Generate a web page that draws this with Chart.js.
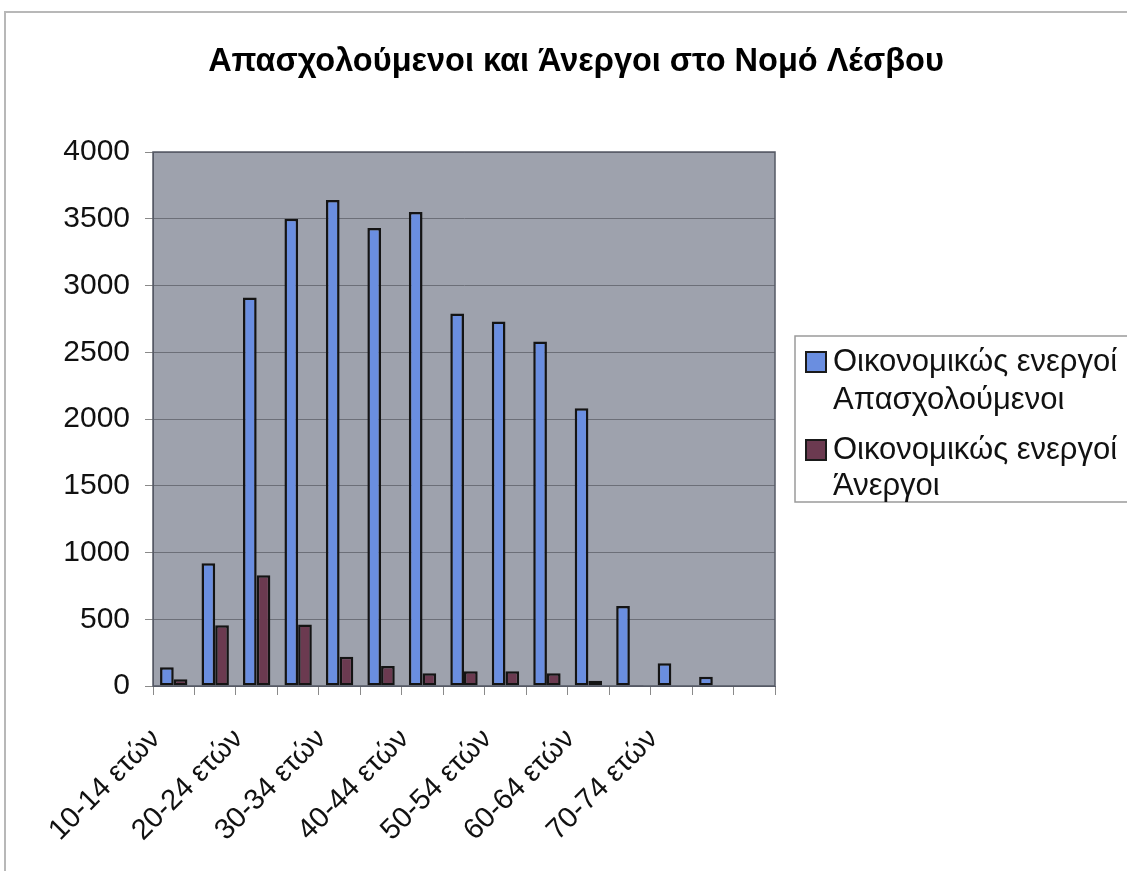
<!DOCTYPE html>
<html lang="el">
<head>
<meta charset="utf-8">
<title>Απασχολούμενοι και Άνεργοι στο Νομό Λέσβου</title>
<script src="https://cdn.jsdelivr.net/npm/chart.js@4.4.1/dist/chart.umd.min.js"></script>
<style>
  html, body { margin: 0; padding: 0; background: #fff; }
  #chart { display: block; }
</style>
</head>
<body>
<canvas id="chart" width="1127" height="871"></canvas>
<script>
// ομάδες ηλικιών (η τελευταία στήλη είναι κενή στο πρωτότυπο)
const ageGroups = ['10-14 ετών', '15-19 ετών', '20-24 ετών', '25-29 ετών', '30-34 ετών',
    '35-39 ετών', '40-44 ετών', '45-49 ετών', '50-54 ετών', '55-59 ετών',
    '60-64 ετών', '65-69 ετών', '70-74 ετών', '75-79 ετών', ''];

// Οικονομικώς ενεργοί Απασχολούμενοι
const employed = [140, 920, 2910, 3500, 3640, 3430, 3550, 2790, 2730, 2580, 2080, 600, 170, 70, null];
// Οικονομικώς ενεργοί Άνεργοι
const unemployed = [50, 455, 830, 460, 220, 150, 95, 110, 110, 95, 40, 8, 0, 0, null];

const yTicks = [0, 500, 1000, 1500, 2000, 2500, 3000, 3500, 4000];
const seriesNames = [
    ['Οικονομικώς ενεργοί', 'Απασχολούμενοι'],
    ['Οικονομικώς ενεργοί', 'Άνεργοι']
];
const titleText = 'Απασχολούμενοι και Άνεργοι στο Νομό Λέσβου';

const FONT = '"Liberation Sans", Arial, sans-serif';
const blue = '#6a8ee0';
const maroon = '#6b3a50';

// φόντο, πλαίσιο, τίτλος και γκρι περιοχή σχεδίασης
const backdrop = {
    id: 'backdrop',
    beforeDraw(chart) {
        const { ctx, chartArea: a } = chart;
        ctx.save();
        ctx.fillStyle = '#ffffff';
        ctx.fillRect(0, 0, chart.width, chart.height);
        ctx.strokeStyle = '#b8b8b8';
        ctx.lineWidth = 2;
        ctx.beginPath();
        ctx.moveTo(5, chart.height);
        ctx.lineTo(5, 12);
        ctx.lineTo(chart.width, 12);
        ctx.stroke();
        ctx.fillStyle = '#9ea2ad';
        ctx.fillRect(a.left, a.top, a.right - a.left, a.bottom - a.top);

        ctx.fillStyle = '#000';
        ctx.font = 'bold 32.5px ' + FONT;
        ctx.textAlign = 'center';
        ctx.textBaseline = 'middle';
        ctx.fillText(titleText, 576, 62);
        ctx.restore();
    },
    afterDraw(chart) {
        const { ctx, chartArea: a } = chart;
        ctx.save();
        ctx.strokeStyle = '#555a66';
        ctx.lineWidth = 1.5;
        ctx.strokeRect(a.left, a.top, a.right - a.left, a.bottom - a.top);
        ctx.restore();
    }
};

// υπόμνημα με δύο γραμμές ανά σειρά
const sideLegend = {
    id: 'sideLegend',
    afterDraw(chart) {
        const ctx = chart.ctx;
        ctx.save();
        ctx.strokeStyle = '#9a9a9a';
        ctx.lineWidth = 1.5;
        ctx.fillStyle = '#ffffff';
        ctx.fillRect(795, 336, 345, 166);
        ctx.strokeRect(795, 336, 345, 166);
        ctx.font = '31px ' + FONT;
        ctx.textBaseline = 'middle';
        const rows = [[362, 400], [450, 486]];
        chart.data.datasets.forEach((ds, i) => {
            const y0 = rows[i][0];
            ctx.fillStyle = ds.backgroundColor;
            ctx.fillRect(806, y0 - 10, 20, 20);
            ctx.strokeStyle = '#1a1a1a';
            ctx.lineWidth = 2;
            ctx.strokeRect(806, y0 - 10, 20, 20);
            ctx.fillStyle = '#111';
            seriesNames[i].forEach((line, j) => {
                ctx.fillText(line, 833, rows[i][j]);
            });
        });
        ctx.restore();
    }
};

new Chart(document.getElementById('chart'), {
    type: 'bar',
    data: {
        labels: ageGroups,
        datasets: [{
            label: seriesNames[0].join(' '),
            data: employed,
            backgroundColor: blue,
            borderColor: '#141414',
            borderWidth: 2.5,
            borderSkipped: false
        }, {
            label: seriesNames[1].join(' '),
            data: unemployed,
            backgroundColor: maroon,
            borderColor: '#141414',
            borderWidth: 2.5,
            borderSkipped: false
        }]
    },
    options: {
        responsive: false,
        animation: false,
        devicePixelRatio: 1,
        layout: { padding: { left: 0, right: 352, top: 152, bottom: 0 } },
        datasets: { bar: { categoryPercentage: 0.66, barPercentage: 1 } },
        plugins: {
            legend: { display: false },
            tooltip: { enabled: false },
            title: { display: false }
        },
        scales: {
            x: {
                grid: {
                    offset: true,
                    drawOnChartArea: false,
                    drawTicks: true,
                    tickLength: 9,
                    color: '#8a8a8a'
                },
                border: { display: true, color: '#555a66' },
                ticks: {
                    autoSkip: false,
                    maxRotation: 45,
                    minRotation: 45,
                    color: '#111',
                    padding: 27,
                    labelOffset: -18,
                    font: { family: FONT, size: 29 },
                    callback: (v, i) => (i % 2 === 0 ? ageGroups[i] : '')
                },
                afterFit: s => { s.height = 185; }
            },
            y: {
                min: 0,
                max: 4000,
                afterBuildTicks: s => { s.ticks = yTicks.map(v => ({ value: v })); },
                grid: {
                    color: '#6c6f78',
                    lineWidth: 1,
                    tickLength: 8,
                    tickColor: '#8a8a8a'
                },
                border: { display: true, color: '#555a66' },
                ticks: {
                    color: '#111',
                    padding: 15,
                    font: { family: FONT, size: 30 },
                    callback: v => String(v)
                },
                afterFit: s => { s.width = 153; }
            }
        }
    },
    plugins: [backdrop, sideLegend]
});
</script>
</body>
</html>
